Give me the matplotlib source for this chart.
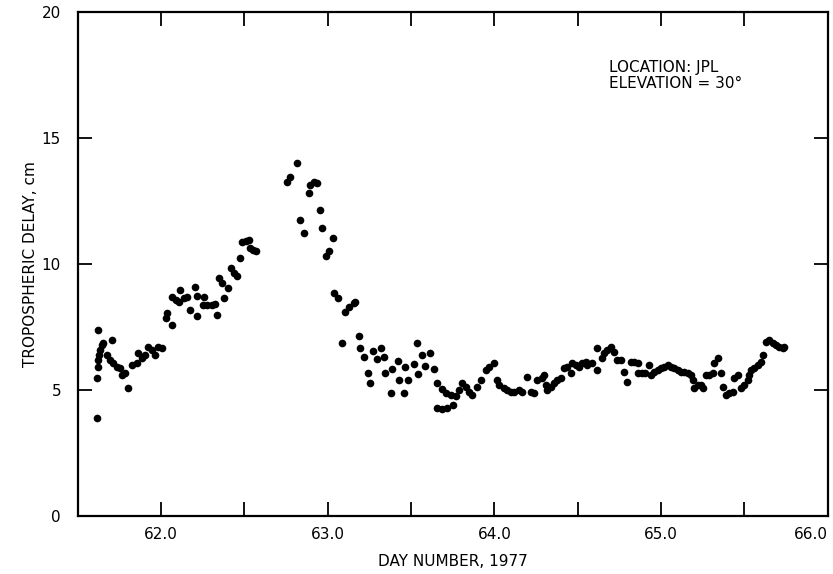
import matplotlib
matplotlib.use("Agg")
import matplotlib.pyplot as plt

# day number (1977) and tropospheric delay (cm)
day_rise = [61.613, 61.617, 61.623, 61.619, 61.623, 61.627, 61.633, 61.643, 61.649,
            61.673, 61.704, 61.694, 61.714, 61.734, 61.754, 61.764, 61.784, 61.804,
            61.824, 61.854, 61.864, 61.884, 61.904, 61.924, 61.944, 61.964, 61.984,
            62.004, 62.030, 62.038, 62.064, 62.064, 62.090, 62.110, 62.114, 62.138,
            62.158, 62.174, 62.204, 62.214, 62.218, 62.258, 62.250, 62.278, 62.304,
            62.325, 62.335, 62.345, 62.365, 62.379, 62.399, 62.419, 62.439, 62.455,
            62.475, 62.485, 62.507, 62.527, 62.531, 62.551, 62.569]
delay_rise = [3.90, 5.46, 7.38, 5.93, 6.19, 6.39, 6.59, 6.79, 6.85,
              6.39, 6.98, 6.19, 6.06, 5.93, 5.86, 5.60, 5.66, 5.07,
              5.99, 6.06, 6.46, 6.26, 6.39, 6.72, 6.59, 6.39, 6.72,
              6.65, 7.84, 8.04, 7.58, 8.70, 8.57, 8.51, 8.97, 8.64,
              8.70, 8.17, 9.10, 8.73, 7.95, 8.70, 8.37, 8.37, 8.37,
              8.41, 7.98, 9.43, 9.23, 8.64, 9.03, 9.83, 9.66, 9.52,
              10.22, 10.89, 10.93, 10.95, 10.65, 10.56, 10.53]

day_peak = [62.755, 62.771, 62.815, 62.835, 62.859, 62.885, 62.891, 62.915, 62.935,
            62.955, 62.968, 62.992, 63.008, 63.032]
delay_peak = [13.27, 13.44, 14.02, 11.75, 11.22, 12.80, 13.13, 13.27, 13.20,
              12.14, 11.42, 10.32, 10.53, 11.02]

day_fall = [63.040, 63.060, 63.106, 63.126, 63.156, 63.166, 63.086, 63.186, 63.196,
            63.216, 63.240, 63.256, 63.270, 63.296, 63.320, 63.336, 63.346, 63.380,
            63.386, 63.420, 63.426, 63.466, 63.460, 63.480, 63.516, 63.536, 63.540,
            63.566, 63.586, 63.612, 63.636, 63.653, 63.687, 63.707, 63.737, 63.767,
            63.787, 63.807, 63.827, 63.847, 63.867, 63.897, 63.917, 63.947, 63.967,
            63.997, 63.657, 63.687, 63.717, 63.753]
delay_fall = [8.84, 8.64, 8.11, 8.31, 8.44, 8.51, 6.88, 7.14, 6.68,
              6.30, 5.69, 5.26, 6.56, 6.22, 6.65, 6.30, 5.69, 4.89,
              5.82, 6.16, 5.40, 5.90, 4.89, 5.40, 6.03, 6.85, 5.63,
              6.39, 5.95, 6.46, 5.82, 5.29, 5.03, 4.89, 4.80, 4.76,
              5.00, 5.29, 5.13, 4.93, 4.80, 5.13, 5.40, 5.79, 5.93,
              6.06, 4.27, 4.23, 4.27, 4.40]

day_late = [64.017, 64.027, 64.057, 64.077, 64.097, 64.117, 64.147, 64.167, 64.198,
            64.218, 64.238, 64.258, 64.288, 64.298, 64.308, 64.318, 64.338, 64.358,
            64.378, 64.398, 64.418, 64.438, 64.458, 64.468, 64.488, 64.508, 64.528,
            64.548, 64.558, 64.588, 64.618, 64.618, 64.648, 64.658, 64.678, 64.698,
            64.718, 64.738, 64.758, 64.778, 64.798, 64.818, 64.838, 64.859, 64.863,
            64.883, 64.903, 64.929, 64.939, 64.959, 64.979, 64.999, 65.019, 65.039,
            65.059, 65.079, 65.099, 65.119, 65.139, 65.159, 65.179, 65.189, 65.199,
            65.219, 65.239, 65.249, 65.269, 65.289, 65.309, 65.319, 65.339, 65.359,
            65.369, 65.389, 65.409, 65.429, 65.439, 65.459, 65.480, 65.500, 65.520,
            65.530, 65.540, 65.560, 65.580, 65.600, 65.610, 65.630, 65.650, 65.670,
            65.690, 65.710, 65.730, 65.740]
delay_late = [5.40, 5.20, 5.07, 5.00, 4.93, 4.93, 5.00, 4.93, 5.53,
              4.93, 4.87, 5.40, 5.46, 5.60, 5.20, 5.00, 5.13, 5.26,
              5.40, 5.46, 5.86, 5.93, 5.66, 6.06, 5.99, 5.93, 6.06,
              6.12, 5.99, 6.06, 5.79, 6.65, 6.26, 6.46, 6.59, 6.72,
              6.52, 6.19, 6.19, 5.73, 5.33, 6.12, 6.12, 6.06, 5.66,
              5.66, 5.66, 5.99, 5.60, 5.73, 5.79, 5.86, 5.93, 5.99,
              5.93, 5.86, 5.79, 5.73, 5.73, 5.66, 5.60, 5.40, 5.07,
              5.20, 5.20, 5.07, 5.60, 5.60, 5.66, 6.06, 6.26, 5.66,
              5.13, 4.80, 4.87, 4.93, 5.46, 5.60, 5.07, 5.20, 5.40,
              5.60, 5.79, 5.86, 5.99, 6.12, 6.39, 6.92, 6.98, 6.85,
              6.79, 6.72, 6.65, 6.72]

days = day_rise + day_peak + day_fall + day_late
delays = delay_rise + delay_peak + delay_fall + delay_late

# ticks every half day, labels only on whole days
x_ticks = [62.0, 62.5, 63.0, 63.5, 64.0, 64.5, 65.0, 65.5, 66.0]
x_ticklabels = ["62.0", "", "63.0", "", "64.0", "", "65.0", "", "66.0"]
y_ticks = [0, 5, 10, 15, 20]

fig = plt.figure(figsize=(8.33, 5.74), dpi=100)
ax = fig.add_axes([0.0933, 0.101, 0.9003, 0.878])

ax.plot(days, delays, "o", color="black", markersize=5.5, markeredgewidth=0)

ax.set_xlim(61.5, 66.0)
ax.set_ylim(0, 20)
ax.set_xticks(x_ticks)
ax.set_xticklabels(x_ticklabels)
ax.set_yticks(y_ticks)

ax.tick_params(direction="in", top=True, right=True,
               length=10, width=1.3, labelsize=11)
ax.tick_params(axis="x", pad=8)
ax.tick_params(axis="y", pad=12)
for s in ax.spines.values():
    s.set_linewidth(1.6)

# last label sits against the right edge in the original
ax.get_xticklabels()[-1].set_horizontalalignment("right")

ax.set_xlabel("DAY NUMBER, 1977", fontsize=11)
ax.xaxis.set_label_coords(0.5, -0.075)
ax.set_ylabel("TROPOSPHERIC DELAY, cm", fontsize=11)
ax.yaxis.set_label_coords(-0.053, 0.5)

ax.text(0.709, 0.905, "LOCATION: JPL\nELEVATION = 30\u00b0", transform=ax.transAxes,
        fontsize=11, va="top", ha="left", linespacing=1.1)

fig.savefig("out.png", dpi=100)
